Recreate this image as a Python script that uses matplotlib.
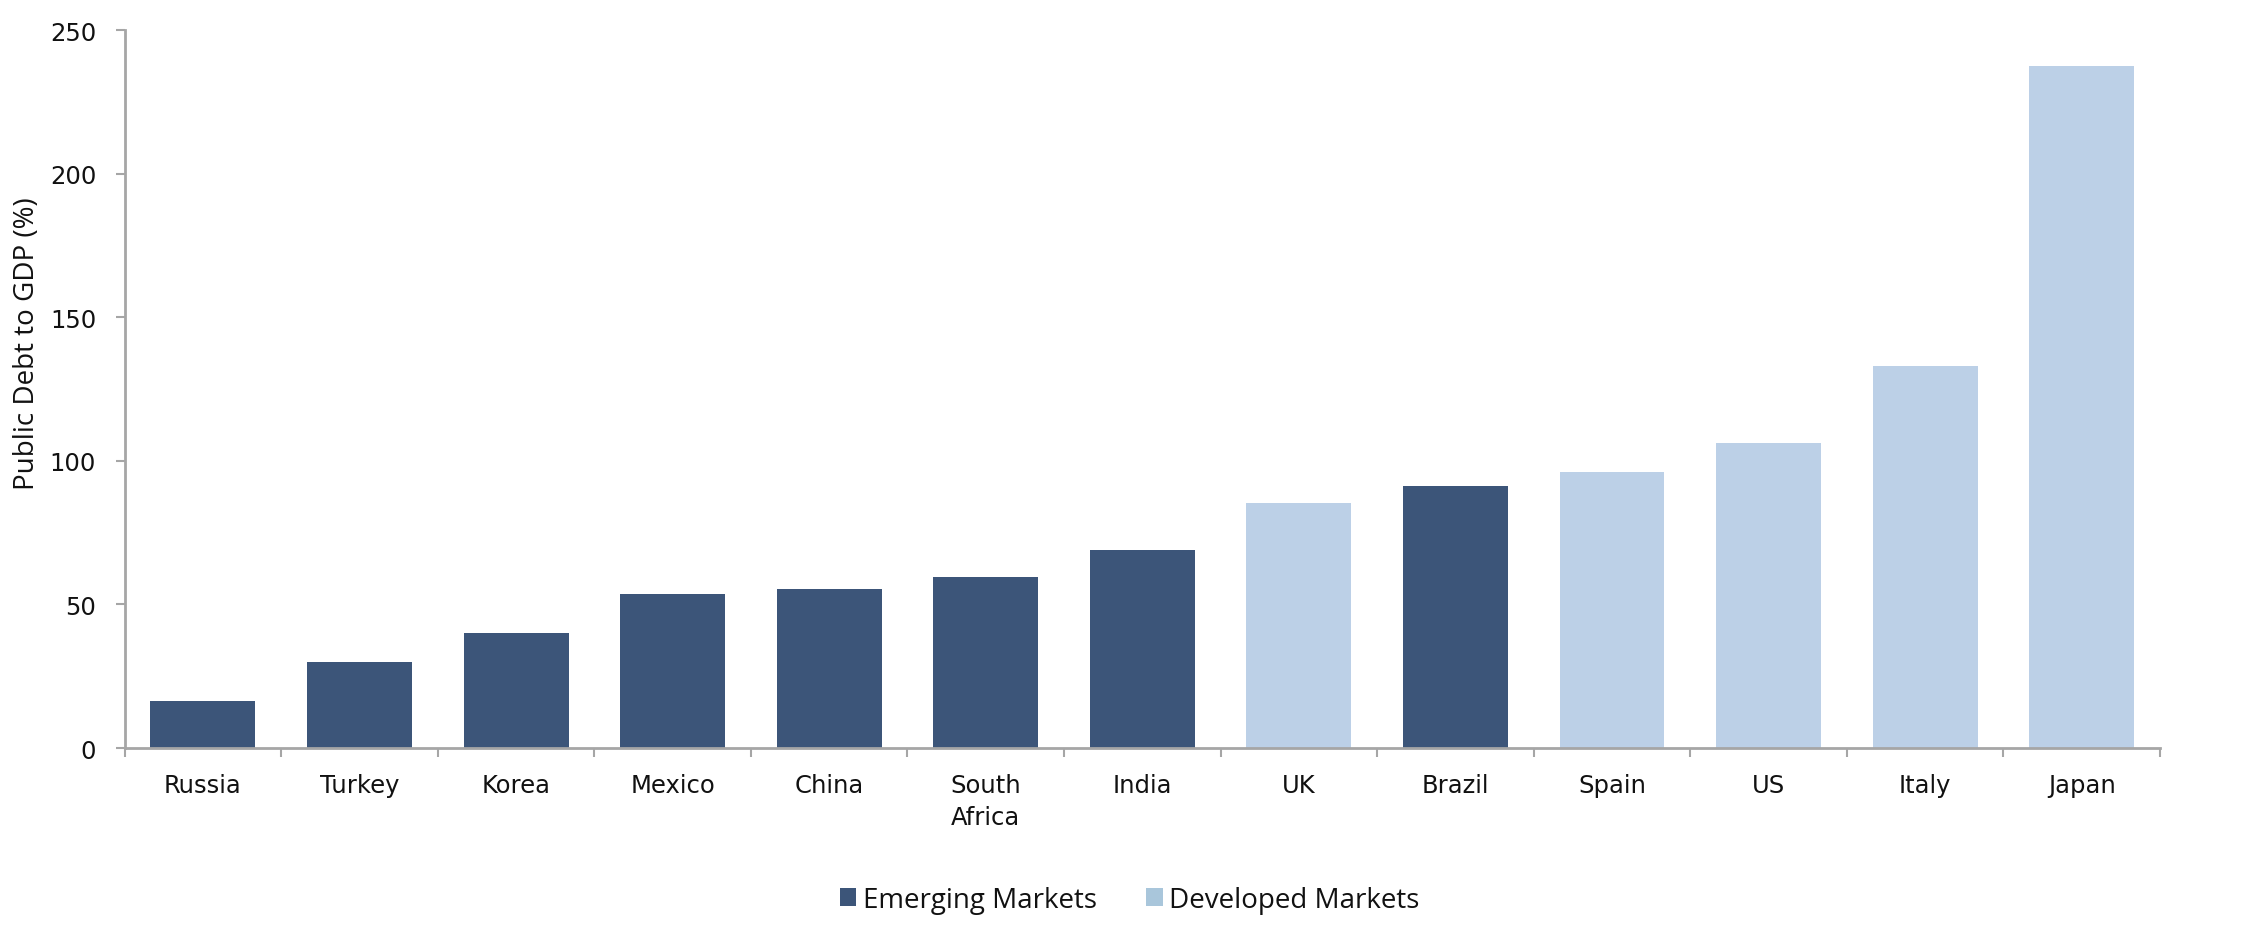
import matplotlib
matplotlib.use("Agg")
import matplotlib.pyplot as plt
from matplotlib.patches import Patch

countries = ["Russia", "Turkey", "Korea", "Mexico", "China", "South\nAfrica", "India",
             "UK", "Brazil", "Spain", "US", "Italy", "Japan"]
debt_to_gdp = [16.3, 29.9, 39.9, 53.6, 55.3, 59.6, 68.9, 85.4, 91.4, 96.3, 106.1, 133.0, 237.7]
groups = ["EM", "EM", "EM", "EM", "EM", "EM", "EM", "DM", "EM", "DM", "DM", "DM", "DM"]
yticks = [0, 50, 100, 150, 200, 250]

EM_COLOR = "#3C5579"
DM_COLOR = "#BCD0E7"
AXIS_COLOR = "#A6A6A6"
TXT = "#111111"
OPEN = ['Open Sans', 'DejaVu Sans']

plt.rcParams['font.family'] = ['DejaVu Sans']

fig = plt.figure(figsize=(22.46, 9.45), dpi=100)
ax = fig.add_axes([0.0555, 0.2074, 0.9062, 0.7593])

x = list(range(len(countries)))
colors = [EM_COLOR if g == "EM" else DM_COLOR for g in groups]
ax.bar(x, debt_to_gdp, width=0.67, color=colors, zorder=2)

ax.set_xlim(-0.5, len(countries) - 0.5)
ax.set_ylim(0, 250)
ax.set_yticks(yticks)
ax.set_yticklabels([str(t) for t in yticks], fontsize=17.5, color=TXT)

ax.set_xticks(x)
ax.set_xticklabels(countries, fontsize=17.5, color=TXT, linespacing=1.42)
ax.set_xticks([i - 0.5 for i in range(len(countries) + 1)], minor=True)
ax.tick_params(axis='x', which='major', length=0, pad=18)
ax.tick_params(axis='x', which='minor', length=6.5, width=1.5, color=AXIS_COLOR, direction='out')
ax.tick_params(axis='y', which='major', length=6.5, width=1.5, color=AXIS_COLOR, direction='out', pad=14)

for s in ["top", "right"]:
    ax.spines[s].set_visible(False)
for s in ["left", "bottom"]:
    ax.spines[s].set_color(AXIS_COLOR)
    ax.spines[s].set_linewidth(2)

ax.set_ylabel("Public Debt to GDP (%)", fontsize=20, color=TXT, family=OPEN)
ax.yaxis.set_label_coords(-0.041, 0.565)

handles = [Patch(facecolor=EM_COLOR, label="Emerging Markets"),
           Patch(facecolor="#A9C6DB", label="Developed Markets")]
leg = fig.legend(handles=handles, loc="center", bbox_to_anchor=(0.503, 0.047), ncol=2,
                 frameon=False, prop={'family': OPEN, 'size': 20},
                 handlelength=0.6, handleheight=0.6,
                 handletextpad=0.25, columnspacing=1.75)
for t in leg.get_texts():
    t.set_color(TXT)

fig.savefig("out.png", dpi=100)
